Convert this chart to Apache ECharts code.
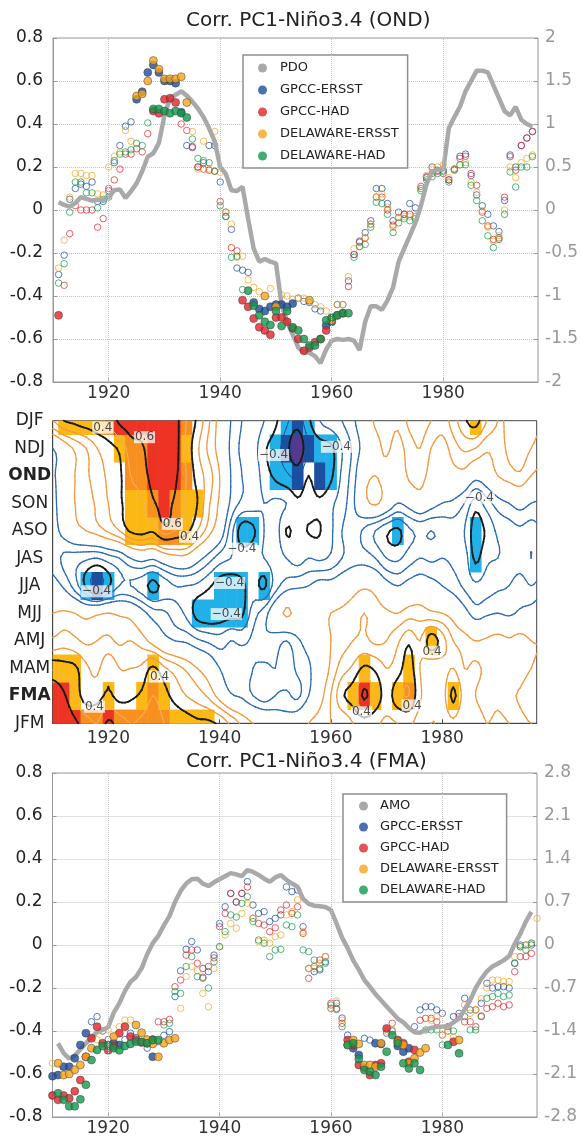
<!DOCTYPE html>
<html><head><meta charset="utf-8">
<script src="https://cdn.jsdelivr.net/npm/echarts@6/dist/echarts.min.js"></script>
<style>html,body{margin:0;padding:0;background:#fff}#c{width:582px;height:1136px}</style>
</head><body><div id="c"></div>
<script>
// ---------------- DATA ----------------
// Top panel (OND), yearly 1911..1996
const TOP_START = 1911;
const topGpccErsst = [-0.30,-0.21,0.05,0.10,0.12,0.11,0.13,0.04,0.04,0.09,
 0.22,0.30,0.39,0.41,0.515,0.55,0.64,0.675,0.64,0.60,
 0.60,0.59,0.455,0.30,0.295,0.20,0.22,0.30,0.30,0.13,
 -0.03,-0.09,-0.27,-0.28,-0.29,-0.43,-0.46,-0.47,-0.45,-0.44,
 -0.44,-0.45,-0.435,-0.41,-0.425,-0.43,-0.46,-0.47,-0.537,-0.52,
 -0.44,-0.44,-0.33,-0.207,-0.145,-0.105,-0.05,0.10,0.10,0.03,
 -0.05,-0.01,-0.02,0.03,0.01,0.10,0.15,0.20,0.185,0.185,
 0.14,0.19,0.25,0.26,0.16,0.07,0.02,-0.02,-0.074,-0.10,
 0.044,0.256,0.20,0.30,0.335,0.365];
const topGpccHad = [-0.49,-0.35,-0.11,0.02,0.00,0.00,0.00,-0.08,-0.04,0.10,
 0.14,0.19,0.26,0.26,0.285,0.27,0.355,0.46,0.45,0.515,
 0.52,0.50,0.40,0.37,0.29,0.20,0.19,0.185,0.18,0.04,
 -0.01,-0.175,-0.19,-0.42,-0.45,-0.505,-0.545,-0.56,-0.58,-0.50,
 -0.50,-0.52,-0.55,-0.60,-0.655,-0.64,-0.615,-0.60,-0.56,-0.505,
 -0.49,-0.48,-0.356,-0.207,-0.15,-0.13,-0.066,0.06,0.06,0.00,
 -0.07,-0.035,-0.02,-0.02,-0.03,0.11,0.155,0.17,0.18,0.17,
 0.14,0.19,0.24,0.25,0.17,0.115,-0.01,-0.074,-0.137,-0.137,
 0.06,0.248,0.185,0.30,0.335,0.365];
const topDelErsst = [-0.27,-0.14,0.06,0.17,0.17,0.16,0.16,0.075,0.07,0.20,
 0.25,0.27,0.37,0.32,0.53,0.54,0.60,0.695,0.655,0.61,
 0.61,0.61,0.62,0.50,0.365,0.19,0.32,0.19,0.365,0.175,
 -0.01,-0.065,-0.22,-0.215,-0.325,-0.36,-0.38,-0.40,-0.365,-0.45,
 -0.395,-0.40,-0.415,-0.41,-0.41,-0.42,-0.44,-0.45,-0.47,-0.513,
 -0.44,-0.44,-0.31,-0.18,-0.17,-0.13,-0.066,0.06,0.075,0.013,
 -0.08,-0.035,-0.03,-0.03,-0.03,0.10,0.16,0.19,0.20,0.21,
 0.15,0.19,0.21,0.22,0.13,0.083,-0.003,-0.08,-0.145,-0.12,
 0.00,0.20,0.15,0.22,0.24,0.256];
const topDelHad = [-0.34,-0.25,-0.01,0.13,0.13,0.08,0.08,0.01,0.05,0.06,
 0.23,0.26,0.27,0.28,0.31,0.30,0.405,0.47,0.47,0.46,
 0.45,0.46,0.45,0.43,0.33,0.24,0.23,0.22,0.18,0.02,
 -0.03,-0.22,-0.215,-0.37,-0.375,-0.445,-0.49,-0.52,-0.535,-0.47,
 -0.54,-0.47,-0.545,-0.56,-0.60,-0.63,-0.63,-0.60,-0.513,-0.50,
 -0.49,-0.48,-0.48,-0.22,-0.17,-0.16,-0.08,0.036,0.03,-0.02,
 -0.105,-0.06,-0.04,-0.05,-0.04,0.09,0.14,0.155,0.17,0.18,
 0.13,0.185,0.21,0.21,0.115,0.044,-0.05,-0.12,-0.175,-0.13,
 -0.02,0.177,0.107,0.20,0.20,0.248];
const topGpccErsstSig = [[1925,1933],[1946,1953],[1959,1960]];
const topGpccHadSig = [[1911,1911],[1928,1932],[1944,1962]];
const topDelErsstSig = [[1925,1934],[1948,1948],[1950,1950],[1956,1956],[1960,1960]];
const topDelHadSig = [[1928,1934],[1945,1963]];
const PDO_START = 1911;
const pdo = [0.09,0.06,0.04,0.08,0.15,0.13,0.11,0.12,0.12,0.15,
 0.23,0.24,0.14,0.22,0.31,0.45,0.62,0.66,0.78,1.10,
 1.30,1.34,1.38,1.33,1.26,1.18,1.08,0.95,0.80,0.50,
 0.42,0.23,0.22,0.27,-0.10,-0.45,-0.60,-0.57,-0.60,-0.62,
 -1.10,-1.30,-1.45,-1.60,-1.65,-1.66,-1.70,-1.78,-1.62,-1.52,
 -1.50,-1.51,-1.50,-1.52,-1.63,-1.30,-1.12,-1.12,-1.16,-1.05,
 -0.90,-0.60,-0.45,-0.30,-0.15,0.05,0.30,0.45,0.47,0.47,
 0.95,1.08,1.20,1.38,1.50,1.62,1.62,1.60,1.45,1.30,
 1.15,1.10,1.20,1.05,1.00,0.97];

// Bottom panel (FMA), yearly 1910..1997
const BOT_START = 1910;
const botGpccErsst = [-0.61,-0.605,-0.566,-0.566,-0.527,-0.465,-0.41,-0.357,-0.333,-0.40,
 -0.44,-0.457,-0.465,-0.44,-0.41,-0.43,-0.45,-0.48,-0.52,-0.45,
 -0.42,-0.403,-0.24,-0.12,-0.02,0.016,-0.023,-0.109,-0.124,-0.047,
 0.10,0.178,0.24,0.20,0.24,0.295,0.186,0.147,0.155,0.109,
 0.124,0.14,0.27,0.248,0.256,0.085,-0.109,-0.124,-0.116,-0.078,
 -0.295,-0.271,-0.34,-0.419,-0.48,-0.512,-0.434,-0.442,-0.457,-0.46,
 -0.41,-0.40,-0.47,-0.496,-0.48,-0.38,-0.302,-0.287,-0.287,-0.302,
 -0.318,-0.38,-0.333,-0.318,-0.248,-0.302,-0.302,-0.271,-0.178,-0.20,
 -0.194,-0.194,-0.20,-0.085,0.0,0.0,0.0,null];
const botGpccHad = [-0.70,-0.72,-0.70,-0.713,-0.68,-0.628,-0.52,-0.434,-0.38,-0.457,
 -0.49,-0.47,-0.41,-0.38,-0.426,-0.44,-0.454,-0.457,-0.44,-0.357,
 -0.357,-0.346,-0.194,-0.163,-0.047,-0.023,-0.085,-0.15,-0.10,-0.06,
 0.085,0.147,0.24,0.20,0.24,0.27,0.124,0.10,0.093,0.062,
 0.08,0.163,0.186,0.147,0.178,0.054,-0.155,-0.10,-0.07,-0.054,
 -0.271,-0.295,-0.364,-0.442,-0.465,-0.558,-0.57,-0.605,-0.558,-0.55,
 -0.388,-0.364,-0.442,-0.457,-0.543,-0.488,-0.35,-0.341,-0.341,-0.357,
 -0.419,-0.40,-0.45,-0.333,-0.357,-0.357,-0.38,-0.33,-0.295,-0.287,
 -0.271,-0.287,-0.279,-0.124,-0.054,-0.054,-0.039,null];
const botDelErsst = [-0.55,-0.55,-0.605,-0.60,-0.58,-0.558,-0.52,-0.48,-0.44,-0.40,
 -0.395,-0.426,-0.38,-0.349,-0.349,-0.372,-0.408,-0.44,-0.46,-0.52,
 -0.457,-0.442,-0.434,-0.295,-0.147,-0.10,-0.12,-0.225,-0.287,-0.109,
 -0.008,0.047,0.10,0.078,0.147,0.194,0.124,0.016,0.023,0.008,
 0.039,0.047,0.14,0.155,0.21,0.062,-0.109,-0.109,-0.085,-0.054,
 -0.295,-0.26,-0.35,-0.465,-0.442,-0.46,-0.558,-0.558,-0.566,-0.457,
 -0.40,-0.395,-0.45,-0.465,-0.55,-0.527,-0.50,-0.48,-0.35,-0.333,
 -0.42,-0.40,-0.43,-0.442,-0.279,-0.318,-0.30,-0.25,-0.20,-0.163,
 -0.163,-0.17,-0.17,-0.054,-0.008,0.0,0.01,0.124];
const botDelHad = [-0.70,-0.69,-0.72,-0.75,-0.75,-0.718,-0.65,-0.535,-0.488,-0.47,
 -0.465,-0.48,-0.49,-0.47,-0.46,-0.45,-0.45,-0.457,-0.442,-0.442,
 -0.372,-0.364,-0.217,-0.225,-0.10,-0.054,-0.147,-0.155,-0.20,-0.078,
 -0.008,0.062,0.14,0.13,0.194,0.225,0.109,0.023,0.008,-0.054,
 -0.023,-0.02,0.093,0.085,0.14,-0.023,-0.031,-0.07,-0.109,-0.085,
 -0.279,-0.30,-0.38,-0.465,-0.457,-0.53,-0.581,-0.589,-0.605,-0.566,
 -0.496,-0.419,-0.457,-0.55,-0.574,-0.55,-0.581,-0.395,-0.395,-0.395,
 -0.465,-0.465,-0.40,-0.504,-0.333,-0.395,-0.395,-0.333,-0.248,-0.24,
 -0.225,-0.24,-0.233,-0.085,-0.008,-0.023,0.008,null];
const botGpccErsstSig = [[1910,1916],[1921,1922],[1928,1928],[1964,1965],[1968,1969],[1972,1974]];
const botGpccHadSig = [[1910,1928],[1963,1970],[1972,1975],[1982,1982]];
const botDelErsstSig = [[1911,1917],[1921,1921],[1925,1932],[1963,1969],[1972,1977],[1983,1983]];
const botDelHadSig = [[1911,1929],[1963,1976],[1981,1981],[1983,1983]];
const AMO_START = 1911;
const amo = [-1.60,-1.76,-1.85,-1.80,-1.70,-1.60,-1.50,-1.42,-1.38,-1.34,
 -1.10,-0.95,-0.75,-0.60,-0.52,-0.38,-0.15,0.03,0.15,0.32,
 0.47,0.70,0.88,1.00,1.07,1.08,1.00,0.96,1.02,1.07,
 1.12,1.17,1.15,1.12,1.22,1.19,1.14,1.08,1.03,1.10,
 1.14,1.06,1.00,0.95,0.75,0.67,0.64,0.63,0.62,0.57,
 0.35,0.12,-0.05,-0.25,-0.40,-0.57,-0.68,-0.80,-0.90,-1.00,
 -1.10,-1.20,-1.26,-1.35,-1.42,-1.43,-1.38,-1.35,-1.33,-1.33,
 -1.32,-1.26,-1.20,-1.05,-0.90,-0.70,-0.55,-0.43,-0.35,-0.30,
 -0.25,-0.18,0.02,0.18,0.38,0.54];

// Middle panel: lagged correlation field, columns 1910..1998 every 2 years
const seasons = ['JFM','FMA','MAM','AMJ','MJJ','JJA','JAS','ASO','SON','OND','NDJ','DJF'];
const fieldYears = Array.from({length:45},(_,i)=>1910+2*i);
const rowJFM = [0.62,0.68,0.62,0.55,0.50, 0.62,0.55,0.50,0.52,0.55, 0.50,0.48,0.45,0.42,0.42, 0.38,0.28,0.18,0.10,0.05, 0.00,-0.05,0.00,0.10,0.15, 0.20,0.22,0.30,0.35,0.32, 0.28,0.30,0.32,0.25,0.20, 0.22,0.28,0.20,0.25,0.20, 0.22,0.20,0.15,0.10,0.10];
const rowFMA = [0.72,0.62,0.48,0.34,0.36, 0.42,0.36,0.38,0.42,0.50, 0.44,0.36,0.30,0.25,0.18, 0.05,-0.08,-0.12,-0.20,-0.25, -0.20,-0.18,-0.22,-0.10,0.05, 0.20,0.38,0.45,0.62,0.48, 0.36,0.46,0.50,0.32,0.22, 0.25,0.42,0.25,0.20,0.15, 0.18,0.12,0.08,-0.05,-0.05];
const rowMAM = [0.48,0.45,0.42,0.32,0.28, 0.38,0.30,0.30,0.32,0.42, 0.32,0.25,0.18,0.10,0.02, -0.10,-0.18,-0.15,-0.20,-0.22, -0.20,-0.25,-0.18,-0.12,0.00, 0.12,0.25,0.32,0.42,0.38, 0.30,0.35,0.45,0.30,0.22, 0.25,0.30,0.20,0.22,0.18, 0.20,0.15,0.18,0.10,0.05];
const rowAMJ = [0.22,0.25,0.22,0.18,0.20, 0.22,0.18,0.20,0.15,0.05, -0.05,-0.10,-0.12,-0.18,-0.22, -0.25,-0.20,-0.22,-0.18,-0.12, -0.15,-0.20,-0.12,-0.05,0.00, 0.10,0.15,0.20,0.22,0.18, 0.20,0.28,0.38,0.30,0.45, 0.35,0.20,0.15,0.10,0.12, 0.15,0.12,0.15,0.10,0.10];
const rowMJJ = [0.10,0.12,0.10,0.05,0.08, 0.10,0.08,0.05,-0.05,-0.15, -0.18,-0.25,-0.32,-0.44,-0.47, -0.46,-0.44,-0.42,-0.25,-0.15, 0.00,0.12,0.05,0.00,0.05, 0.10,0.12,0.15,0.20,0.15, 0.12,0.10,0.15,0.15,0.12, 0.10,0.05,-0.05,-0.15,-0.12, -0.10,-0.12,-0.08,-0.05,0.00];
const rowJJA = [-0.05,-0.12,-0.25,-0.42,-0.55, -0.42,-0.30,-0.30,-0.35,-0.43, -0.36,-0.30,-0.30,-0.32,-0.38, -0.45,-0.46,-0.42,-0.36,-0.42, -0.25,-0.15,-0.12,-0.10,-0.05, -0.05,0.00,0.05,0.08,0.05, -0.05,-0.10,-0.05,-0.02,-0.05, -0.10,-0.15,-0.22,-0.28,-0.25, -0.22,-0.20,-0.15,-0.20,-0.15];
const rowJAS = [-0.15,-0.22,-0.25,-0.28,-0.30, -0.25,-0.20,-0.10,-0.05,-0.08, 0.00,0.05,0.05,-0.05,-0.15, -0.25,-0.30,-0.35,-0.32,-0.30, -0.25,-0.30,-0.35,-0.30,-0.32, -0.28,-0.20,-0.15,-0.15,-0.20, -0.30,-0.32,-0.25,-0.20,-0.22, -0.20,-0.22,-0.25,-0.42,-0.32, -0.30,-0.28,-0.25,-0.30,-0.25];
const rowASO = [-0.15,-0.05,0.05,0.10,0.15, 0.22,0.30,0.42,0.45,0.42, 0.55,0.50,0.44,0.30,0.15, 0.00,-0.25,-0.45,-0.42,-0.30, -0.25,-0.405,-0.37,-0.405,-0.405, -0.32,-0.20,-0.15,-0.22,-0.30, -0.38,-0.42,-0.32,-0.28,-0.30, -0.28,-0.25,-0.30,-0.45,-0.38, -0.28,-0.25,-0.22,-0.25,-0.20];
const rowSON = [-0.15,0.02,0.10,0.15,0.22, 0.30,0.38,0.45,0.48,0.58, 0.64,0.58,0.48,0.40,0.22, 0.08,-0.12,-0.22,-0.25,-0.30, -0.28,-0.30,-0.38,-0.35,-0.38, -0.32,-0.25,-0.12,0.05,0.12, 0.02,-0.10,-0.05,0.02,-0.05, -0.10,-0.12,-0.20,-0.35,-0.25, -0.15,-0.10,-0.05,-0.10,-0.12];
const rowOND = [-0.12,0.00,0.10,0.18,0.25, 0.32,0.38,0.50,0.55,0.64, 0.68,0.62,0.50,0.36,0.25, 0.10,-0.10,-0.20,-0.22,-0.35, -0.42,-0.48,-0.52,-0.40,-0.50, -0.42,-0.28,-0.15,0.05,0.10, 0.05,-0.02,0.12,0.15,0.05, 0.00,0.05,0.05,-0.05,0.00, 0.10,0.15,0.18,0.10,0.05];
const rowNDJ = [-0.10,0.02,0.12,0.20,0.30, 0.36,0.42,0.55,0.58,0.68, 0.66,0.64,0.48,0.32,0.18, 0.05,-0.12,-0.22,-0.25,-0.38, -0.45,-0.56,-0.70,-0.50,-0.45, -0.42,-0.30,-0.18,-0.05,0.05, 0.12,0.05,0.15,0.20,0.10, 0.05,0.15,0.22,0.20,0.12, 0.15,0.22,0.25,0.20,0.15];
const rowDJF = [0.30,0.40,0.43,0.46,0.48, 0.52,0.62,0.66,0.68,0.72, 0.68,0.64,0.50,0.38,0.22, 0.05,-0.10,-0.20,-0.22,-0.30, -0.38,-0.48,-0.55,-0.42,-0.30, -0.25,-0.20,-0.12,0.00,0.12, 0.15,0.12,0.22,0.25,0.20, 0.15,0.25,0.38,0.44,0.30, 0.20,0.22,0.30,0.25,0.20];
const contourLevels = [-0.6,-0.5,-0.4,-0.3,-0.2,-0.1,0.1,0.2,0.3,0.4,0.5,0.6];
const contourLabelText = ['0.4','0.6','0.6','0.4','\u22120.4','\u22120.4','\u22120.4','\u22120.4','\u22120.4','\u22120.4','\u22120.4','0.4','0.4','0.4','0.4','0.4'];
const contourLabelYear = [1919,1926.5,1931.5,1934.6,1944,1917.9,1941.8,1941.2,1949.7,1961,1986.7,1917.5,1929.2,1965.5,1974.6,1978.2];
const contourLabelRow = [10.75,10.4,7.25,6.78,6.35,4.8,5.1,3.97,9.75,10.05,8.2,0.6,1.7,0.4,0.65,2.6];
const yearTicks = [1920,1940,1960,1980];

// ---------------- BUILD ----------------
const FONT = 'DejaVu Sans';
const C_BLUE='#1c4c9c', C_RED='#e3232b', C_ORANGE='#f7a51d', C_GREEN='#119a4c', C_GRAY='#a9a9a9';
const field = [rowJFM,rowFMA,rowMAM,rowAMJ,rowMJJ,rowJJA,rowJAS,rowASO,rowSON,rowOND,rowNDJ,rowDJF];
const X_MIN = 1910, X_MAX = 1997;

function sigHas(r,y){return r.some(a=>y>=a[0]&&y<=a[1]);}
function pair(name,color,start,vals,sig,xi,yi,extra){
  const f=[],o=[];
  vals.forEach((v,i)=>{ if(v===null) return; const y=start+i; (sigHas(sig,y)?f:o).push([y,v]); });
  const filled={type:'scatter',name,xAxisIndex:xi,yAxisIndex:yi,data:f,symbol:'circle',symbolSize:8,z:4,silent:true,
    itemStyle:{color,borderColor:'#3a3a3a',borderWidth:0.6}};
  const open=Object.assign({type:'scatter',name,xAxisIndex:xi,yAxisIndex:yi,data:o,symbol:'circle',symbolSize:6.5,z:2,silent:true,
    itemStyle:{color:'rgba(255,255,255,0)',borderColor:color,borderWidth:0.9}},extra||{});
  return [filled,open];
}
const vGrid = {silent:true,symbol:'none',label:{show:false},lineStyle:{type:'dotted',color:'#c4c4c4',width:1},
  data:yearTicks.map(y=>({xAxis:y}))};

// Catmull-Rom upsampling for smooth contour rendering
function cr(p0,p1,p2,p3,t){return 0.5*((2*p1)+(-p0+p2)*t+(2*p0-5*p1+4*p2-p3)*t*t+(-p0+3*p1-3*p2+p3)*t*t*t);}
function up(a,f){const n=a.length,out=[];for(let i=0;i<n-1;i++){for(let k=0;k<f;k++){out.push(cr(a[Math.max(i-1,0)],a[i],a[i+1],a[Math.min(i+2,n-1)],k/f));}}out.push(a[n-1]);return out;}
const FX=4, FY=5;
const rowsUp = field.map(r=>up(r,FX));
const nxF = rowsUp[0].length;
const F=[]; 
for(let j=0;j<nxF;j++){const col=up(rowsUp.map(r=>r[j]),FY);col.forEach((v,i)=>{(F[i]=F[i]||[])[j]=v;});}
const xs = Array.from({length:nxF},(_,j)=>X_MIN+2*j/FX);
const ys = Array.from({length:F.length},(_,i)=>i/FY);
const jMax = Math.round((X_MAX-X_MIN)/2*FX);

function segs(level){
  const out=[];
  const T={1:[[3,0]],2:[[0,1]],3:[[3,1]],4:[[1,2]],6:[[0,2]],7:[[3,2]],8:[[2,3]],9:[[0,2]],11:[[1,2]],12:[[1,3]],13:[[0,1]],14:[[3,0]]};
  for(let i=0;i<ys.length-1;i++){for(let j=0;j<jMax;j++){
    const v0=F[i][j],v1=F[i][j+1],v2=F[i+1][j+1],v3=F[i+1][j];
    let idx=0; if(v0>level)idx|=1; if(v1>level)idx|=2; if(v2>level)idx|=4; if(v3>level)idx|=8;
    if(idx===0||idx===15) continue;
    const x0=xs[j],x1=xs[j+1],y0=ys[i],y1=ys[i+1];
    const L=(a,b)=>(level-a)/(b-a);
    const P=[()=>[x0+(x1-x0)*L(v0,v1),y0],()=>[x1,y0+(y1-y0)*L(v1,v2)],()=>[x0+(x1-x0)*L(v3,v2),y1],()=>[x0,y0+(y1-y0)*L(v0,v3)]];
    let pairs=T[idx];
    if(idx===5||idx===10){const c=(v0+v1+v2+v3)/4>level;
      if(idx===5) pairs=c?[[0,1],[2,3]]:[[3,0],[1,2]]; else pairs=c?[[3,0],[1,2]]:[[0,1],[2,3]];}
    pairs.forEach(p=>{const a=P[p[0]](),b=P[p[1]]();out.push([a[0],a[1],b[0],b[1]]);});
  }}
  return out;
}
function levelStyle(l){
  const a=Math.abs(l);
  if(Math.abs(a-0.4)<1e-6||Math.abs(a-0.6)<1e-6) return {c:'#1b1b1b',w:1.8};
  if(l>0) return a>0.45?{c:'#f8b060',w:1}:{c:'#f39a3d',w:1.3};
  return a>0.45?{c:'#1f4e9a',w:1}:{c:'#2a6cb5',w:1.3};
}
const contourSeries = contourLevels.map(l=>{
  const st=levelStyle(l);
  return {type:'custom',name:'c'+l,xAxisIndex:1,yAxisIndex:2,silent:true,z:3,
    dimensions:['x1','y1','x2','y2'],encode:{x:[0,2],y:[1,3]},data:segs(l),
    renderItem:(p,api)=>{const a=api.coord([api.value(0),api.value(1)]),b=api.coord([api.value(2),api.value(3)]);
      return {type:'line',shape:{x1:a[0],y1:a[1],x2:b[0],y2:b[1]},style:{stroke:st.c,lineWidth:st.w,lineCap:'round'}};}};
});
function cellColor(v){ if(v>=0.6) return '#ee3224'; if(v>=0.5) return '#f7901e'; if(v>=0.4) return '#fdb913';
  if(v<=-0.6) return '#55398f'; if(v<=-0.5) return '#1b4f9f'; if(v<=-0.41) return '#22b0e8'; return null; }
const cellData=[];
field.forEach((row,r)=>row.forEach((v,c)=>{ if(cellColor(v)) cellData.push([fieldYears[c],r,v]); }));
const cellSeries={type:'custom',name:'cells',xAxisIndex:1,yAxisIndex:2,silent:true,z:1,data:cellData,
  dimensions:['x','y','v'],encode:{x:0,y:1},
  renderItem:(p,api)=>{const x=api.value(0),y=api.value(1),v=api.value(2);
    const xa=Math.max(X_MIN,x-1),xb=Math.min(X_MAX,x+1),ya=Math.max(0,y-0.5),yb=Math.min(11,y+0.5);
    const a=api.coord([xa,yb]),b=api.coord([xb,ya]);
    return {type:'rect',shape:{x:a[0],y:a[1],width:b[0]-a[0]+0.5,height:b[1]-a[1]+0.5},style:{fill:cellColor(v)}};}};
const labelSeries={type:'scatter',name:'clabels',xAxisIndex:1,yAxisIndex:2,silent:true,z:6,symbol:'circle',symbolSize:1,
  itemStyle:{color:'rgba(0,0,0,0)'},
  data:contourLabelText.map((t,i)=>({name:t,value:[contourLabelYear[i],contourLabelRow[i]]})),
  label:{show:true,position:'inside',formatter:'{b}',fontFamily:FONT,fontSize:12,color:'#222',backgroundColor:'rgba(255,255,255,0.92)',padding:[0,1]}};

function numFmt(v){const r=Math.round(v*10)/10;return Math.abs(r)<1e-9?'0':String(r);}
function xAx(gi,margin,lineColor){return {type:'value',gridIndex:gi,min:X_MIN,max:X_MAX,
  axisLine:{show:true,onZero:false,lineStyle:{color:lineColor}},
  axisTick:{show:true,inside:true,length:4,customValues:yearTicks,lineStyle:{color:lineColor}},
  axisLabel:{customValues:yearTicks,fontFamily:FONT,fontSize:17,color:'#333',margin,formatter:v=>String(Math.round(v))},splitLine:{show:false}};}
function yLeft(gi){return {type:'value',gridIndex:gi,min:-0.8,max:0.8,interval:0.2,name:'Corr.',nameLocation:'middle',nameGap:17,nameRotate:90,
  nameTextStyle:{fontFamily:FONT,fontSize:21,color:'#222'},
  axisLine:{show:true,lineStyle:{color:'#999'}},axisTick:{show:true,inside:true,length:4,lineStyle:{color:'#999'}},
  axisLabel:{fontFamily:FONT,fontSize:17,color:'#222',margin:10,formatter:numFmt},
  splitLine:{show:true,lineStyle:{type:'dotted',color:'#c4c4c4',width:1}}};}
function yRight(gi,name,lim,step){return {type:'value',gridIndex:gi,position:'right',min:-lim,max:lim,interval:step,name,nameLocation:'middle',nameGap:18,nameRotate:90,
  nameTextStyle:{fontFamily:FONT,fontSize:21,color:'#999'},
  axisLine:{show:false},axisTick:{show:true,inside:true,length:4,lineStyle:{color:'#999'}},
  axisLabel:{fontFamily:FONT,fontSize:17,color:'#999',margin:7,formatter:numFmt},splitLine:{show:false}};}

const series=[];
series.push(...pair('GPCC-ERSST',C_BLUE,TOP_START,topGpccErsst,topGpccErsstSig,0,0,{markLine:vGrid}));
series.push(...pair('GPCC-HAD',C_RED,TOP_START,topGpccHad,topGpccHadSig,0,0));
series.push(...pair('DELAWARE-ERSST',C_ORANGE,TOP_START,topDelErsst,topDelErsstSig,0,0));
series.push(...pair('DELAWARE-HAD',C_GREEN,TOP_START,topDelHad,topDelHadSig,0,0));
series.push({type:'line',name:'PDO',xAxisIndex:0,yAxisIndex:1,data:pdo.map((v,i)=>[PDO_START+i,v]),symbol:'none',showSymbol:false,z:3,silent:true,
  lineStyle:{color:C_GRAY,width:4.5},itemStyle:{color:C_GRAY}});
series.push(...pair('GPCC-ERSST',C_BLUE,BOT_START,botGpccErsst,botGpccErsstSig,2,3,{markLine:vGrid}));
series.push(...pair('GPCC-HAD',C_RED,BOT_START,botGpccHad,botGpccHadSig,2,3));
series.push(...pair('DELAWARE-ERSST',C_ORANGE,BOT_START,botDelErsst,botDelErsstSig,2,3));
series.push(...pair('DELAWARE-HAD',C_GREEN,BOT_START,botDelHad,botDelHadSig,2,3));
series.push({type:'line',name:'AMO',xAxisIndex:2,yAxisIndex:4,data:amo.map((v,i)=>[AMO_START+i,v]),symbol:'none',showSymbol:false,z:3,silent:true,
  lineStyle:{color:C_GRAY,width:4.5},itemStyle:{color:C_GRAY}});
series.push(cellSeries,...contourSeries,labelSeries);

const legendBase={orient:'vertical',icon:'circle',itemWidth:9,itemHeight:9,selectedMode:false,
  backgroundColor:'#fff',borderColor:'#8f8f8f',borderWidth:1.5,itemStyle:{borderWidth:0}};
const chart=echarts.init(document.getElementById('c'),null,{renderer:'canvas'});
const gridBase={show:true,borderWidth:1,backgroundColor:'rgba(0,0,0,0)',containLabel:false,outerBoundsMode:'none'};
chart.setOption({
  animation:false,
  title:[
    {text:'Corr. PC1-Niño3.4 (OND)',left:186,top:11,padding:0,textStyle:{fontFamily:FONT,fontSize:20,fontWeight:'normal',color:'#222',lineHeight:20}},
    {text:'Corr. PC1-Niño3.4 (FMA)',left:186,top:752,padding:0,textStyle:{fontFamily:FONT,fontSize:20,fontWeight:'normal',color:'#222',lineHeight:20}}
  ],
  legend:[
    Object.assign({},legendBase,{left:243,top:55,padding:[6,9,5,15],itemGap:8,
      data:['PDO','GPCC-ERSST','GPCC-HAD','DELAWARE-ERSST','DELAWARE-HAD'],
      textStyle:{fontFamily:FONT,fontSize:13,color:'#222',lineHeight:14,padding:[0,0,0,8]}}),
    Object.assign({},legendBase,{left:343,top:794,padding:[5,8,5,16],itemGap:7,
      data:['AMO','GPCC-ERSST','GPCC-HAD','DELAWARE-ERSST','DELAWARE-HAD'],
      textStyle:{fontFamily:FONT,fontSize:13,color:'#222',lineHeight:14,padding:[0,0,0,7]}})
  ],
  grid:[
    Object.assign({},gridBase,{left:53,top:38,width:485,height:344,borderColor:'#999'}),
    Object.assign({},gridBase,{left:52.7,top:420.7,width:484,height:302.6,borderColor:'#444'}),
    Object.assign({},gridBase,{left:52.5,top:773,width:484.5,height:344,borderColor:'#999'})
  ],
  xAxis:[xAx(0,3,'#999'),xAx(1,7,'#444'),xAx(2,3,'#999')],
  yAxis:[
    yLeft(0), yRight(0,'PDO',2,0.5),
    {type:'value',gridIndex:1,min:0,max:11,interval:1,axisLine:{show:true,lineStyle:{color:'#444'}},axisTick:{show:false},splitLine:{show:false},
      axisLabel:{fontFamily:FONT,fontSize:17,color:'#222',align:'center',margin:23,
        formatter:v=>{const s=seasons[Math.round(v)]; return (s==='OND'||s==='FMA')?'{b|'+s+'}':s;},
        rich:{b:{fontFamily:FONT,fontSize:17,fontWeight:'bold',color:'#222'}}}},
    yLeft(2), yRight(2,'AMO',2.8,0.7)
  ],
  series
});
</script></body></html>
